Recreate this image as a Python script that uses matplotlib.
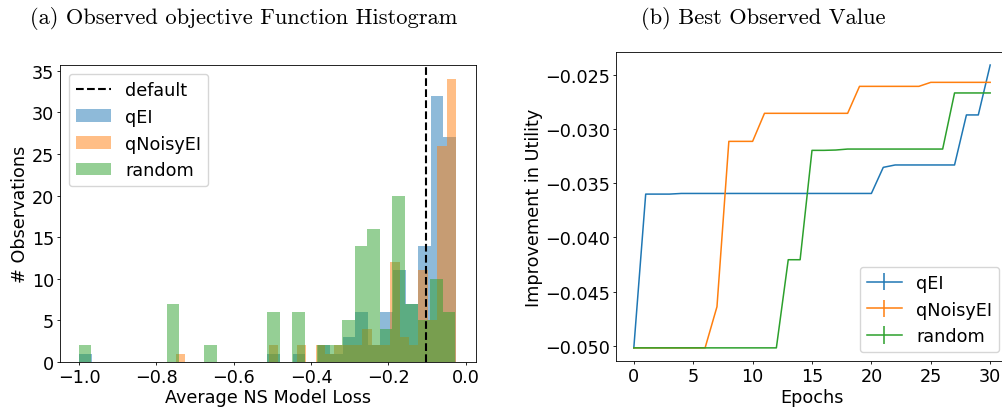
import numpy as np
import matplotlib
matplotlib.use("Agg")
import matplotlib.pyplot as plt

# ---- histogram data (30 bins per method, each over its own range) ----
methods = ["qEI", "qNoisyEI", "random"]
bin_range = {"qEI": (-1.0, -0.0258), "qNoisyEI": (-0.750, -0.0258), "random": (-1.0, -0.0275)}

counts_qei = [1, 0, 0, 0, 0, 0, 0, 0, 0, 0,
              0, 0, 0, 0, 0, 1, 0, 1, 0, 2,
              1, 3, 6, 2, 6, 11, 7, 14, 32, 27]
counts_qnoisyei = [1, 0, 0, 0, 0, 0, 0, 0, 0, 0,
                   2, 0, 0, 2, 0, 2, 1, 2, 2, 2,
                   4, 2, 2, 12, 3, 2, 11, 5, 26, 34]
counts_random = [2, 0, 0, 0, 0, 0, 0, 7, 0, 0,
                 2, 0, 0, 0, 0, 6, 0, 6, 0, 2,
                 2, 5, 14, 16, 4, 20, 7, 5, 10, 6]
hist_counts = {"qEI": counts_qei, "qNoisyEI": counts_qnoisyei, "random": counts_random}
default_loss = -0.103

# ---- best observed value per epoch ----
epochs = list(range(31))
best_qei = [-0.0502, -0.0360, -0.0360, -0.0360, -0.03594, -0.03594, -0.03594, -0.03594,
            -0.03594, -0.03594, -0.03594, -0.03594, -0.03594, -0.03594, -0.03594, -0.03594,
            -0.03594, -0.03594, -0.03594, -0.03594, -0.03594, -0.03353, -0.03331, -0.03331,
            -0.03331, -0.03331, -0.03331, -0.03331, -0.02869, -0.02869, -0.02408]
best_qnoisyei = [-0.0502, -0.0502, -0.0502, -0.0502, -0.0502, -0.0502, -0.0502, -0.0464,
                 -0.03113, -0.03113, -0.03113, -0.02854, -0.02854, -0.02854, -0.02854, -0.02854,
                 -0.02854, -0.02854, -0.02854, -0.02605, -0.02605, -0.02605, -0.02605, -0.02605,
                 -0.02605, -0.02568, -0.02568, -0.02568, -0.02568, -0.02568, -0.02568]
best_random = [-0.0502, -0.0502, -0.0502, -0.0502, -0.0502, -0.0502, -0.0502, -0.0502,
               -0.0502, -0.0502, -0.0502, -0.0502, -0.0502, -0.04206, -0.04206, -0.03196,
               -0.03196, -0.03193, -0.03184, -0.03184, -0.03184, -0.03184, -0.03184, -0.03184,
               -0.03184, -0.03184, -0.03184, -0.02666, -0.02666, -0.02666, -0.02666]
best_values = {"qEI": best_qei, "qNoisyEI": best_qnoisyei, "random": best_random}

FS = 12.7
plt.rcParams.update({
    'font.size': FS,
    'xtick.major.size': 1.9, 'ytick.major.size': 1.9,
    'xtick.major.pad': 2.2, 'ytick.major.pad': 2.2,
    'xtick.major.width': 0.6, 'ytick.major.width': 0.6,
    'axes.linewidth': 0.6, 'axes.labelpad': 2.0,
})

fig = plt.figure(figsize=(10.02, 4.10), dpi=100)
W, H = 1002, 410
ax1 = fig.add_axes([60 / W, (H - 363) / H, (476 - 60) / W, (363 - 66) / H])
ax2 = fig.add_axes([616 / W, (H - 362.3) / H, (1008 - 616) / W, (362.3 - 52.7) / H])

# (a) histogram
handles = []
ln = ax1.axvline(default_loss, color='k', ls='--', lw=1.5, label='default')
handles.append(ln)
for i, m in enumerate(methods):
    lo, hi = bin_range[m]
    edges = np.linspace(lo, hi, len(hist_counts[m]) + 1)
    bars = ax1.bar(edges[:-1], hist_counts[m], width=np.diff(edges), align='edge',
                   color=f'C{i}', alpha=0.5, linewidth=0, label=m)
    handles.append(bars)
ax1.set_xlim(-1.049, 0.0263)
ax1.set_ylim(0, 35.7)
ax1.set_xticks([-1.0, -0.8, -0.6, -0.4, -0.2, 0.0])
ax1.set_yticks(range(0, 36, 5))
ax1.set_xlabel('Average NS Model Loss', fontsize=FS)
ax1.set_ylabel('# Observations', fontsize=FS)
ax1.legend(handles=handles, loc='upper left', fontsize=FS)

# (b) best observed value
for i, m in enumerate(methods):
    ax2.errorbar(epochs, best_values[m], yerr=np.zeros(len(epochs)), color=f'C{i}',
                 lw=1.1, elinewidth=1.1, label=m)
ax2.set_xlim(-1.5, 31.5)
ax2.set_ylim(-0.05144, -0.02285)
ax2.set_xticks(range(0, 31, 5))
ax2.set_yticks([-0.050, -0.045, -0.040, -0.035, -0.030, -0.025])
ax2.set_xlabel('Epochs', fontsize=FS)
ax2.set_ylabel('Improvement in Utility', fontsize=FS)
ax2.legend(loc='lower right', fontsize=FS)

fig.text(30 / W, 1 - 18 / H, '(a) Observed objective Function Histogram',
         fontname='cmr10', fontsize=16.2, va='center', ha='left')
fig.text(641 / W, 1 - 18 / H, '(b) Best Observed Value',
         fontname='cmr10', fontsize=16.2, va='center', ha='left')

fig.savefig('out.png', dpi=100)
